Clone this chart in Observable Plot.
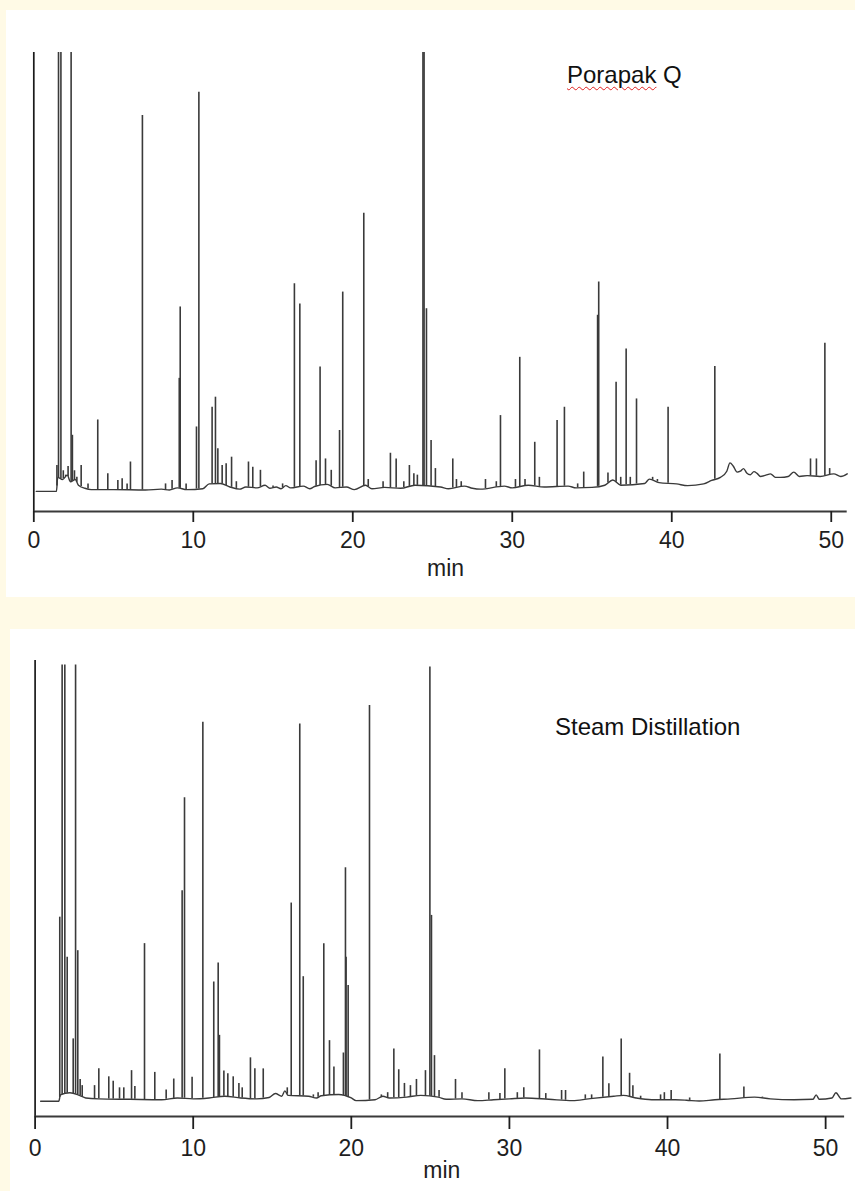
<!DOCTYPE html>
<html><head><meta charset="utf-8">
<script src="https://cdn.jsdelivr.net/npm/d3@7"></script>
<script src="https://cdn.jsdelivr.net/npm/@observablehq/plot@0.6"></script>
<style>
html,body{margin:0;padding:0;}
body{background:#fffae6;width:855px;height:1191px;position:relative;overflow:hidden;font-family:"Liberation Sans",Arial,sans-serif;}
.panel{position:absolute;background:#fff;}
.panel svg{display:block;}
.lbl{position:absolute;font-size:24px;line-height:24px;color:#111;white-space:nowrap;}
.sq{text-decoration:underline wavy #e02020;text-decoration-thickness:1px;text-underline-offset:3px;}
</style></head>
<body>
<div id="p1" class="panel" style="left:6px;top:10px;width:849px;height:587px"></div>
<div id="p2" class="panel" style="left:10px;top:629px;width:845px;height:562px"></div>
<div id="t1" class="lbl" style="left:567px;top:63px"></div>
<div id="t2" class="lbl" style="left:555px;top:715px"></div>
<script>
// ---- data ----
const panelTitles = ["Porapak Q", "Steam Distillation"];
const xAxisLabel = "min";
const xTicks = [0, 10, 20, 30, 40, 50];

// Porapak Q: peaks [retention time (min), height (% of full scale)]
const porapakPeaks = [
[1.45,5.7],[1.55,100],[1.7,100],[1.85,4.5],[2.0,3.5],[2.15,5.5],[2.34,100],[2.42,12.6],[2.55,4.5],[2.7,3],
[2.97,5.7],[3.4,1.5],[4.01,16.1],[4.64,3.8],[5.27,2.3],[5.54,2.7],[5.85,1.5],[6.06,6.5],[6.81,85.6],
[8.26,1.5],[8.67,2.3],[9.12,25.6],[9.18,41.9],[9.55,1.5],[10.2,14.5],[10.35,90.9],[11.18,19.0],[11.39,21.3],
[11.54,9.5],[11.81,5.7],[12.06,6.1],[12.4,7.6],[12.7,2],[13.46,6.5],[13.73,5.3],[14.21,4.6],[15.0,1],[15.6,1.5],
[16.34,47.2],[16.68,42.6],[17.7,6.8],[17.95,28.2],[18.29,7.2],[18.65,4.6],[19.17,13.7],[19.37,45.3],[20.69,63.3],
[20.97,2.5],[21.9,2],[22.36,8.5],[22.72,7.2],[23.2,2],[23.55,5.7],[23.83,3.8],[24.05,3.5],[24.4,100],[24.47,100],
[24.62,41.5],[24.91,11.4],[25.18,5],[26.27,7.2],[26.5,2.5],[26.8,2],[28.32,2.5],[29.0,2],[29.26,17.1],[30.2,2.5],
[30.47,30.4],[30.8,2.5],[31.41,11],[31.7,3],[32.81,16],[33.27,19],[34.1,1.5],[34.48,4.2],[35.35,40],[35.42,47.6],
[36.0,4],[36.51,24.7],[36.8,3],[37.14,32.3],[37.4,3],[37.79,20.9],[38.8,3],[39.1,2.5],[39.77,19],[42.70,28.3],
[48.7,7.2],[49.07,7.2],[49.6,33.6],[49.9,5]
];
// Porapak Q: baseline trace [time, level]
const porapakBaseline = [
[0.15,-0.2],[1.42,-0.2],[1.5,3],[1.8,2.5],[2.1,3.5],[2.3,2],[2.6,2.5],[2.8,1.2],[3.2,0.5],[3.6,0.2],[5,0.2],[7,0.1],
[8,0.3],[8.5,0.1],[9,0.6],[9.6,0.2],[10.6,0.4],[11.0,1.5],[11.7,1.6],[12.3,0.8],[12.9,0.3],[13.3,0.8],[14,0.6],
[14.5,1.2],[14.8,0.5],[15.2,0.8],[15.5,0.4],[15.8,1.1],[16.1,0.6],[16.9,1],[17.3,0.4],[17.6,0.9],[18.4,1.4],[18.9,0.6],
[19.6,0.8],[20.1,0.2],[20.8,1.2],[21.2,0.4],[22,0.7],[23,0.5],[23.9,1.2],[25.5,0.8],[26,0.4],[27,1],[27.5,0.5],
[28,0.3],[29.5,1],[30,0.6],[31,1.2],[32,0.8],[33.5,1.0],[34,0.6],[35,0.7],[35.8,1.2],[36.3,2.4],[36.8,1.2],[38.3,1.6],
[38.6,2.6],[39.2,1.8],[40.3,1.5],[41,1.1],[42,1.5],[42.5,2.3],[43.05,3.0],[43.45,4.4],[43.65,6.3],[43.85,5.6],[44.1,4.2],
[44.3,4.4],[44.5,5],[44.7,4.0],[44.93,3.6],[45.15,4.3],[45.35,3.9],[45.56,3.2],[45.9,3.5],[46.19,3.8],[46.5,3],
[46.81,3.0],[47.3,3.2],[47.65,4.2],[48.0,3.2],[48.49,3.4],[49.3,3.2],[50.16,3.8],[50.6,3.2],[51.0,3.8]
];

// Steam Distillation: peaks [retention time (min), height (% of full scale)]
const steamPeaks = [
[1.56,41.8],[1.71,99],[1.88,99],[2.03,32.7],[2.41,14.2],[2.56,99],[2.7,34.2],[2.85,5],[2.98,3.6],[3.76,3.6],[4.03,7.4],
[4.66,5.6],[4.94,4.6],[5.34,3.1],[5.61,3.1],[6.1,7],[6.31,3.4],[6.92,35.8],[7.57,6.6],[8.29,2.6],[8.77,5.1],[9.3,47.8],
[9.45,68.9],[9.93,5.5],[10.61,86],[11.3,27.1],[11.58,31.4],[11.66,15],[11.94,6.9],[12.19,6.3],[12.53,5.6],[12.89,4.1],
[13.1,3.1],[13.62,9.9],[13.9,7.4],[14.43,7.4],[15.4,1.5],[15.95,3.1],[16.2,45],[16.74,85.6],[16.96,28.3],[17.6,1.5],
[17.9,2],[18.26,35.8],[18.62,13.8],[18.9,7.8],[19.5,11],[19.63,53],[19.67,32.7],[19.8,26.3],[21.15,89.8],[21.9,1.5],
[22.3,2],[22.69,11.9],[23.0,7.2],[23.36,4.1],[23.74,3.6],[24.12,5],[24.69,7],[24.97,98.5],[25.07,42.2],[25.26,10.4],
[25.55,2.5],[26.59,5],[27.0,2],[28.7,2],[29.4,1.8],[29.71,7.4],[30.5,2],[30.91,3.1],[31.9,11.7],[32.3,1.8],[33.3,2.5],
[33.55,2.5],[34.8,1.5],[35.2,1.5],[35.91,10.1],[36.29,4],[37.07,14.2],[37.6,6.4],[37.81,3.6],[38.3,1.2],[39.56,1.5],
[39.8,2],[40.23,2.5],[41.4,0.8],[43.31,10.8],[44.83,3.3],[46.0,1]
];
// Steam Distillation: baseline trace [time, level]
const steamBaseline = [
[0.35,0.07],[1.5,0.07],[1.6,1.5],[2.2,2],[2.8,1.4],[3.2,0.8],[4,0.6],[6,0.5],[8,0.4],[9,0.8],[10,0.6],[11,0.8],[12,1.2],
[13,0.8],[14,0.6],[14.8,0.9],[15.2,1.8],[15.6,1.2],[15.8,2.4],[16.0,1.4],[17.3,1.2],[17.8,0.8],[18.1,1.3],[19.2,1.6],
[20,0.8],[20.3,0.2],[21.5,0.4],[22,1.2],[22.4,0.8],[23.5,1],[24.4,1.4],[25.5,1],[26,0.5],[27,0.6],[28,0.2],[29,0.4],
[30,0.6],[31,0.8],[32.5,0.5],[34,0.2],[35,0.6],[36.6,1.2],[37.2,1.4],[38,0.8],[39,0.4],[40.5,0.4],[41.2,0.3],[42,0.1],
[43,0.4],[44,0.6],[45.5,1.0],[46.5,0.6],[48,0.4],[49.2,0.5],[49.4,1.5],[49.6,0.5],[50.4,0.8],[50.65,2.0],[51,0.6],[51.6,0.8]
];

// ---- drawing ----
function chromatogram(cfg) {
  const baseAt = d3.scaleLinear(cfg.base.map(d => d[0]), cfg.base.map(d => d[1])).clamp(true);
  const rules = cfg.peaks.map(([t, h]) => ({t, h, b: baseAt(t)}));
  const basePts = cfg.base.map(([t, h]) => ({t, h}));
  return Plot.plot({
    width: cfg.width, height: cfg.height,
    marginLeft: cfg.ml, marginRight: cfg.mr, marginTop: cfg.mt, marginBottom: cfg.mb,
    x: {domain: cfg.xDomain, label: null},
    y: {domain: cfg.yDomain, axis: null},
    style: {background: "#fff", color: "#1e1e1e", fontFamily: "'Liberation Sans', Arial, sans-serif", fontSize: "23px", overflow: "visible"},
    marks: [
      Plot.ruleX([0], {stroke: "#1a1a1a", strokeWidth: 1.7}),
      Plot.ruleY([cfg.yDomain[0]], {stroke: "#3a3a3a", strokeWidth: 2.2}),
      Plot.axisX({ticks: xTicks, tickSize: cfg.tickSize, tickPadding: cfg.tickPadding, strokeWidth: 1.8, fontSize: 23}),
      Plot.line(basePts, {x: "t", y: "h", stroke: "#3a3a3a", strokeWidth: 1.4, curve: "monotone-x"}),
      Plot.ruleX(rules, {x: "t", y1: "b", y2: "h", stroke: "#3a3a3a", strokeWidth: 1.6}),
      Plot.text([xAxisLabel], {text: d => d, frameAnchor: "bottom", dy: cfg.labelDy, dx: cfg.labelDx, fontSize: 23, fill: "#1e1e1e"})
    ]
  });
}

document.getElementById("p1").append(chromatogram({
  peaks: porapakPeaks, base: porapakBaseline,
  width: 849, height: 587, ml: 27.3, mr: 8.3, mt: 42, mb: 86,
  xDomain: [0, 51], yDomain: [-4.8, 100],
  tickSize: 11, tickPadding: 9, labelDy: 64, labelDx: 5
}));
document.getElementById("p2").append(chromatogram({
  peaks: steamPeaks, base: steamBaseline,
  width: 845, height: 562, ml: 24.6, mr: 10.9, mt: 31, mb: 75,
  xDomain: [0, 51.2], yDomain: [-3.4, 100],
  tickSize: 13, tickPadding: 10, labelDy: 61.6, labelDx: 2
}));

const [w1, ...rest] = panelTitles[0].split(" ");
const sq = document.createElement("span");
sq.className = "sq"; sq.textContent = w1;
document.getElementById("t1").append(sq, " " + rest.join(" "));
document.getElementById("t2").textContent = panelTitles[1];
</script>
</body></html>
